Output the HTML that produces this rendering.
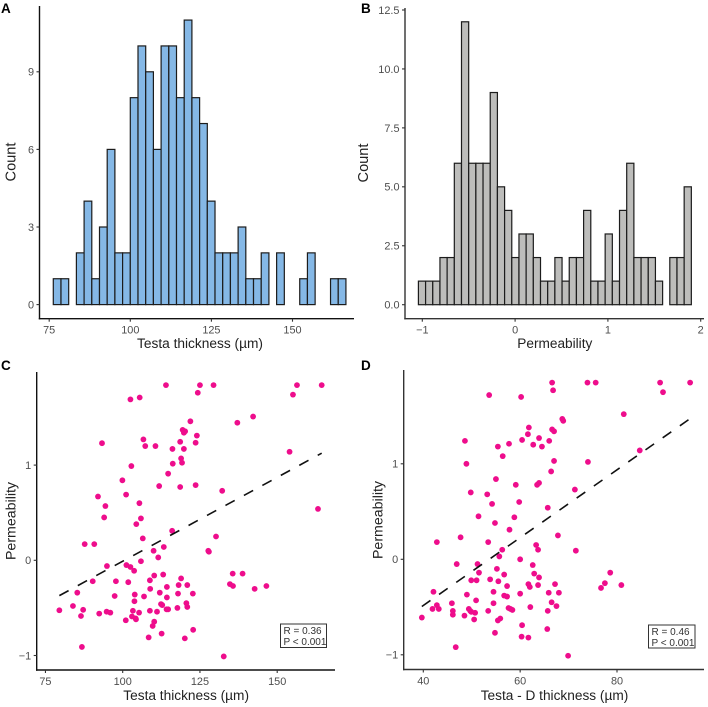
<!DOCTYPE html>
<html lang="en">
<head>
<meta charset="utf-8">
<title>Testa thickness and permeability</title>
<style>
html,body{margin:0;padding:0;background:#fff;}
svg{display:block;font-family:"Liberation Sans",Arial,sans-serif;filter:blur(0.3px);}
.title{font-size:14.2px;fill:#222;}
.tick{font-size:10.9px;fill:#4d4d4d;}
.letter{font-size:13.5px;font-weight:bold;fill:#000;}
.stat{font-size:10px;fill:#333;}
</style>
</head>
<body>
<svg id="fig" width="708" height="707" viewBox="0 0 708 707" xmlns="http://www.w3.org/2000/svg">
  <rect width="708" height="707" fill="#fff"/>
  <g id="panelA"></g>
  <g id="panelB"></g>
  <g id="panelC"></g>
  <g id="panelD"></g>

  <text class="letter" x="1" y="13">A</text>
  <text class="letter" x="361" y="13">B</text>
  <text class="letter" x="1" y="370">C</text>
  <text class="letter" x="361" y="370">D</text>

  <text class="title" x="137" y="348" textLength="126" lengthAdjust="spacingAndGlyphs">Testa thickness (µm)</text>
  <text class="title" transform="translate(15.5,162) rotate(-90)" text-anchor="middle" style="font-size:14.6px">Count</text>
  <text class="title" x="517.3" y="348" textLength="75" lengthAdjust="spacingAndGlyphs">Permeability</text>
  <text class="title" transform="translate(368,163) rotate(-90)" text-anchor="middle" style="font-size:14.6px">Count</text>
  <text class="title" x="123.3" y="700" textLength="125.7" lengthAdjust="spacingAndGlyphs">Testa thickness (µm)</text>
  <text class="title" transform="translate(15.7,521) rotate(-90)" text-anchor="middle">Permeability</text>
  <text class="title" x="480.7" y="700" textLength="147.6" lengthAdjust="spacingAndGlyphs">Testa - D thickness (µm)</text>
  <text class="title" transform="translate(382.3,520) rotate(-90)" text-anchor="middle">Permeability</text>

  <g>
    <rect x="280.5" y="624" width="46" height="23.5" fill="#fff" stroke="#333" stroke-width="1"/>
    <text class="stat" x="283.5" y="633.8">R = 0.36</text>
    <text class="stat" x="283.5" y="645">P &lt; 0.001</text>
  </g>
  <g>
    <rect x="648.5" y="625" width="46.5" height="23" fill="#fff" stroke="#333" stroke-width="1"/>
    <text class="stat" x="651.5" y="635">R = 0.46</text>
    <text class="stat" x="651.5" y="646">P &lt; 0.001</text>
  </g>
</svg>
<script>
// Histogram A
const countsA = [1,1,0,2,4,1,3,6,2,2,8,10,9,6,10,10,8,11,8,7,4,2,2,2,3,1,1,2,0,2,0,0,1,2,0,0,1,1];
const binStartA = 76.26;
const binWidthA = 2.374;
const xTicksA = [75,100,125,150];
const yTicksA = [0,3,6,9];

// Histogram B
const countsB = [1,1,1,2,2,6,12,6,6,6,9,5,4,2,3,3,2,1,1,2,1,2,2,4,1,1,3,1,4,6,2,2,2,1,0,2,2,5];
const binStartB = -1.042;
const binWidthB = 0.0774;
const xTicksB = [-1,0,1,2];
const yTicksB = [0,2.5,5,7.5,10,12.5];
const yTickLabelsB = ['0.0','2.5','5.0','7.5','10.0','12.5'];

// Scatter C
const thicknessC = [114.0,102.5,105.5,125.0,124.3,121.9,119.4,120.2,119.8,124.0,123.6,118.6,119.8,116.1,110.6,107.3,106.7,93.3,118.9,119.2,116.2,102.8,114.7,99.9,111.8,118.6,123.6,101.1,92.0,105.4,94.4,94.0,105.9,104.4,116.0,129.4,156.4,164.4,155.1,142.2,137.1,154.0,132.2,163.2,106.5,87.7,90.8,113.3,110.0,111.5,105.9,94.9,101.2,102.5,103.7,110.2,113.1,118.9,108.8,90.3,97.8,101.8,118.1,120.9,114.3,108.9,112.0,117.9,122.7,85.3,97.4,103.9,106.9,114.3,103.8,120.6,120.9,112.4,112.8,117.7,83.9,79.5,87.2,92.4,94.8,96.0,103.3,105.3,108.8,111.1,114.2,114.7,86.5,103.0,104.2,104.3,101.0,110.2,109.7,122.8,112.6,108.4,120.1,86.8,130.2,127.7,127.9,135.6,138.8,134.7,135.7,142.7,146.5,132.7];
const permeabilityC = [1.84,1.69,1.71,1.84,1.76,1.46,1.37,1.355,1.34,1.31,1.235,1.245,1.17,1.17,1.20,1.20,1.27,1.23,1.07,1.025,1.015,0.99,0.91,0.84,0.78,0.77,0.79,0.69,0.67,0.60,0.57,0.45,0.44,0.38,0.31,1.84,1.84,1.84,1.74,1.51,1.445,1.14,0.73,0.54,0.23,0.17,0.17,0.14,0.10,0.03,-0.01,-0.06,-0.05,-0.07,-0.11,-0.16,-0.15,-0.19,-0.21,-0.22,-0.22,-0.23,-0.26,-0.26,-0.28,-0.30,-0.34,-0.35,-0.35,-0.34,-0.375,-0.36,-0.38,-0.39,-0.43,-0.45,-0.49,-0.46,-0.47,-0.50,-0.48,-0.525,-0.52,-0.56,-0.54,-0.55,-0.53,-0.55,-0.53,-0.54,-0.515,-0.515,-0.585,-0.59,-0.61,-0.62,-0.63,-0.645,-0.69,-0.73,-0.77,-0.81,-0.82,-0.91,0.25,0.10,0.09,-0.14,-0.14,-0.25,-0.27,-0.30,-0.27,-1.01];
const xTicksC = [75,100,125,150];
const yTicksScatter = [-1,0,1];

// Scatter D
const thicknessD = [53.6,60.2,61.8,61.6,60.4,48.6,57.7,62.7,55.4,56.4,48.9,55.0,59.1,49.8,53.2,54.2,59.8,51.4,58.8,54.8,57.8,66.6,73.9,75.6,88.9,95.1,66.8,89.5,81.4,68.7,68.9,66.6,67.0,63.9,66.0,64.5,84.7,67.0,74.0,66.4,63.9,63.5,71.3,65.7,47.7,42.8,53.4,56.3,55.7,60.0,46.9,51.2,55.2,51.5,62.6,62.9,56.7,53.8,49.9,51.0,55.5,61.7,62.0,57.3,42.1,54.5,49.0,60.0,56.7,57.3,50.9,45.9,54.5,42.8,41.9,43.2,62.1,57.6,58.0,58.4,46.1,49.4,49.7,50.7,49.9,53.4,46.1,48.5,39.7,50.5,55.9,55.4,60.4,54.8,60.3,61.7,46.7,67.8,63.3,63.7,71.5,63.9,78.6,77.5,76.7,80.9,67.2,63.7,65.9,68.0,66.5,67.5,65.7,65.6,69.9];
const permeabilityD = [1.72,1.70,1.38,1.31,1.25,1.24,1.21,1.20,1.18,1.08,1.00,0.84,0.78,0.70,0.68,0.58,0.60,0.45,0.44,0.38,0.31,1.85,1.85,1.85,1.85,1.85,1.77,1.75,1.52,1.47,1.45,1.36,1.34,1.27,1.24,1.18,1.14,1.03,1.02,0.92,0.80,0.78,0.73,0.54,0.23,0.18,0.18,0.10,0.03,0.00,-0.05,-0.05,-0.10,-0.14,-0.06,-0.15,-0.16,-0.21,-0.22,-0.22,-0.23,-0.26,-0.29,-0.28,-0.34,-0.34,-0.37,-0.36,-0.38,-0.39,-0.43,-0.46,-0.46,-0.48,-0.52,-0.52,-0.50,-0.51,-0.52,-0.53,-0.54,-0.52,-0.54,-0.56,-0.55,-0.54,-0.58,-0.59,-0.61,-0.63,-0.62,-0.64,-0.69,-0.77,-0.81,-0.82,-0.92,0.25,0.15,0.10,0.09,-0.19,-0.14,-0.25,-0.30,-0.27,-0.26,-0.27,-0.35,-0.35,-0.45,-0.49,-0.54,-0.73,-1.01];
const xTicksD = [40,60,80];

const NS = 'http://www.w3.org/2000/svg';

function linear(d0, d1, r0, r1) {
  return function (v) { return r0 + (v - d0) * (r1 - r0) / (d1 - d0); };
}

function make(parent, tag, attrs) {
  const el = document.createElementNS(NS, tag);
  for (const k in attrs) el.setAttribute(k, attrs[k]);
  parent.appendChild(el);
  return el;
}

function drawAxes(g, cfg, xs, ys) {
  const axisColor = cfg.axisColor;
  const yAxis = make(g, 'line', {x1: cfg.left, x2: cfg.left, y1: cfg.top, y2: cfg.bottom + 0.7, stroke: axisColor, 'stroke-width': 1.4});
  
  
  const xAxis = make(g, 'line', {x1: cfg.left - 0.7, x2: cfg.right, y1: cfg.bottom, y2: cfg.bottom, stroke: axisColor, 'stroke-width': 1.4});
  
  
  cfg.xTicks.forEach(function (t, i) {
    const tickMark = make(g, 'line', {x1: xs(t), x2: xs(t), y1: cfg.bottom, y2: cfg.bottom + 3, stroke: '#333', 'stroke-width': 1.1});
    
    
    const label = make(g, 'text', {x: xs(t), y: cfg.bottom + 15, 'text-anchor': 'middle', class: 'tick'});
    
    
    label.textContent = String(cfg.xLabels ? cfg.xLabels[i] : t).replace('-', '\u2212');
  });
  cfg.yTicks.forEach(function (t, i) {
    const tickMark = make(g, 'line', {x1: cfg.left - 3, x2: cfg.left, y1: ys(t), y2: ys(t), stroke: '#333', 'stroke-width': 1.1});
    
    
    const label = make(g, 'text', {x: cfg.left - 5.5, y: ys(t) + 3.9, 'text-anchor': 'end', class: 'tick'});
    
    
    label.textContent = String(cfg.yLabels ? cfg.yLabels[i] : t).replace('-', '\u2212');
  });
}

function drawHist(g, counts, start, width, xs, ys, fill) {
  counts.forEach(function (c, i) {
    const x0 = xs(start + i * width);
    const x1 = xs(start + (i + 1) * width);
    const bar = make(g, 'rect', {x: x0, y: ys(c), width: x1 - x0, height: ys(0) - ys(c), fill: fill, stroke: '#1c1c1c', 'stroke-width': 1.2});
    
    
  });
}

function drawScatter(g, xv, yv, xs, ys) {
  const n = Math.min(xv.length, yv.length);
  let sx = 0, sy = 0, sxx = 0, sxy = 0, minX = Infinity, maxX = -Infinity;
  for (let i = 0; i < n; i++) {
    sx += xv[i]; sy += yv[i]; sxx += xv[i] * xv[i]; sxy += xv[i] * yv[i];
    minX = Math.min(minX, xv[i]); maxX = Math.max(maxX, xv[i]);
  }
  const slope = (n * sxy - sx * sy) / (n * sxx - sx * sx);
  const intercept = (sy - slope * sx) / n;
  for (let i = 0; i < n; i++) {
    const dot = make(g, 'circle', {cx: xs(xv[i]), cy: ys(yv[i]), r: 2.9, fill: '#ee0d8c'});
    
    
  }
  const fit = make(g, 'line', {
    x1: xs(minX), y1: ys(intercept + slope * minX),
    x2: xs(maxX), y2: ys(intercept + slope * maxX),
    stroke: '#111', 'stroke-width': 1.6, 'stroke-dasharray': '10.5 10.5'
  });
  
  
}

// Panel A
(function () {
  const g = document.getElementById('panelA');
  const xs = linear(100, 150, 130.3, 292.5);
  const ys = linear(0, 9, 304.6, 71.8);
  drawHist(g, countsA, binStartA, binWidthA, xs, ys, '#85b8e6');
  drawAxes(g, {left: 39.5, right: 354, top: 6, bottom: 318.7, xTicks: xTicksA, yTicks: yTicksA, axisColor: '#111'}, xs, ys);
})();

// Panel B
(function () {
  const g = document.getElementById('panelB');
  const xs = linear(-1, 2, 422.3, 700.7);
  const ys = linear(0, 12.5, 304.7, 10);
  drawHist(g, countsB, binStartB, binWidthB, xs, ys, '#bdbdbb');
  drawAxes(g, {left: 405, right: 704, top: 8, bottom: 318.7, xTicks: xTicksB, yTicks: yTicksB, yLabels: yTickLabelsB, axisColor: '#333'}, xs, ys);
})();

// Panel C
(function () {
  const g = document.getElementById('panelC');
  const xs = linear(100, 150, 122.7, 277.2);
  const ys = linear(-1, 1, 655.5, 465.1);
  drawScatter(g, thicknessC, permeabilityC, xs, ys);
  drawAxes(g, {left: 36.7, right: 335, top: 372, bottom: 670, xTicks: xTicksC, yTicks: yTicksScatter, axisColor: '#111'}, xs, ys);
})();

// Panel D
(function () {
  const g = document.getElementById('panelD');
  const xs = linear(40, 80, 423.3, 617);
  const ys = linear(-1, 1, 654.8, 463.8);
  drawScatter(g, thicknessD, permeabilityD, xs, ys);
  drawAxes(g, {left: 403.7, right: 704, top: 370, bottom: 669.5, xTicks: xTicksD, yTicks: yTicksScatter, axisColor: '#333'}, xs, ys);
})();
</script>
</body>
</html>
